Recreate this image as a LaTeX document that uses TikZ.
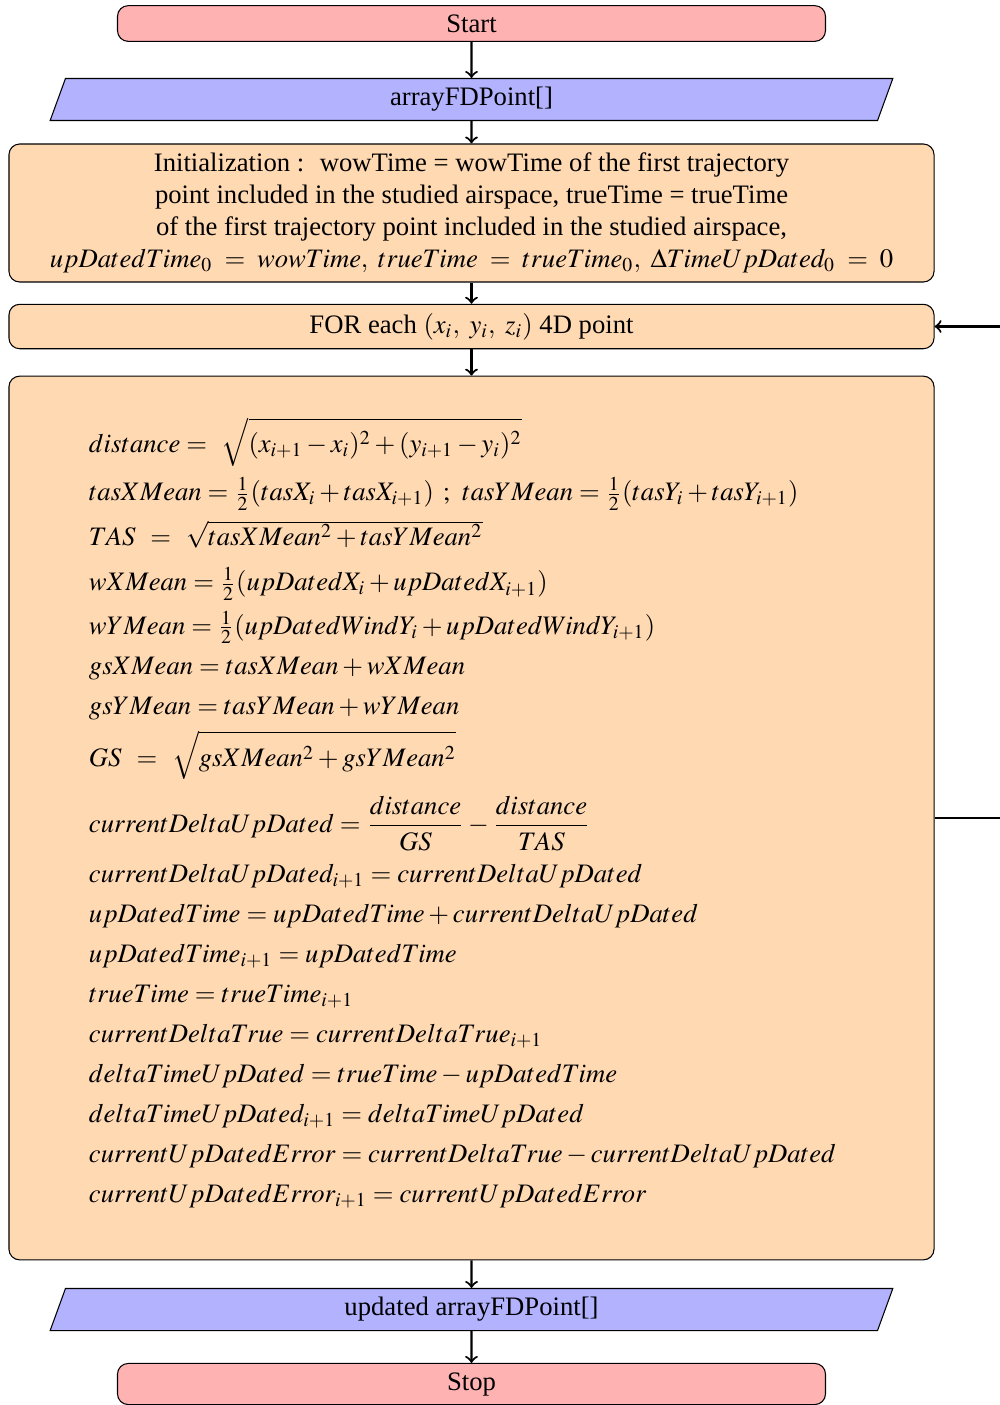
\documentclass[tikz,border=0pt]{standalone}
\usepackage{amsmath}
\usepackage{mathptmx}
\usepackage{fontspec}
\setmainfont{Liberation Serif}
\usepackage{tikz}
\usetikzlibrary{shapes.geometric}
\tikzset{
  term/.style    = {draw,rounded corners,fill=red!30,minimum width=265.5pt,
                     align=center},
  io/.style      = {trapezium,trapezium left angle=70,trapezium right angle=110,
                     trapezium stretches body,draw,fill=blue!30,
                     minimum width=316pt,align=center},
  proc/.style    = {draw,rounded corners,fill=orange!30,minimum width=346.9pt,
                     align=center},
  flowarr/.style = {->,thick},
}

\begin{document}
\begin{tikzpicture}[x=0.375pt,y=-0.375pt]
  \useasboundingbox (0,0) rectangle (999,1405);
  % blocks
  \node[term] (start) at (471.5,23.5) {Start};
  \node[io] (input) at (471.5,99.5) {arrayFDPoint[]};
  \node[proc] (init) at (471.5,213)
       {Initialization :~ wowTime = wowTime of the first trajectory\\
        point included in the studied airspace, trueTime = trueTime\\
        of the first trajectory point included in the studied airspace,\\
        $upDatedTime_0\;=\;wowTime,\ trueTime\;=\;trueTime_0,\
         \Delta TimeUpDated_0\;=\;0$};
  \node[proc] (loop) at (471.5,326.5) {FOR each $(x_i,\ y_i,\ z_i)$ 4D point};
  \node[proc,text width=286.9pt,inner xsep=30pt,inner ysep=15.5pt,align=left]
       (calc) at (471.5,818)
       {$\displaystyle distance =\ \sqrt{(x_{i+1}-x_i)^2+(y_{i+1}-y_i)^2}$\\[3pt]
        $tasXMean = \frac{1}{2}(tasX_i + tasX_{i+1})\ ;\ tasYMean = \frac{1}{2}(tasY_i + tasY_{i+1})$\\[3pt]
        $TAS\ =\ \sqrt{tasXMean^2 + tasYMean^2}$\\[5pt]
        $wXMean = \frac{1}{2}(upDatedX_i + upDatedX_{i+1})$\\[3pt]
        $wYMean = \frac{1}{2}(upDatedWindY_i + upDatedWindY_{i+1})$\\[3pt]
        $gsXMean = tasXMean + wXMean$\\[3pt]
        $gsYMean = tasYMean + wYMean$\\[3pt]
        $\displaystyle GS\ =\ \sqrt{\vphantom{(x_{i+1})^2}gsXMean^2 + gsYMean^2}$\\[5pt]
        $\displaystyle currentDeltaUpDated = \frac{distance}{GS} - \frac{distance}{TAS}$\\[4pt]
        $currentDeltaUpDated_{i+1} = currentDeltaUpDated$\\[3pt]
        $upDatedTime = upDatedTime + currentDeltaUpDated$\\[3pt]
        $upDatedTime_{i+1} = upDatedTime$\\[3pt]
        $trueTime = trueTime_{i+1}$\\[3pt]
        $currentDeltaTrue = currentDeltaTrue_{i+1}$\\[3pt]
        $deltaTimeUpDated = trueTime - upDatedTime$\\[3pt]
        $deltaTimeUpDated_{i+1} = deltaTimeUpDated$\\[3pt]
        $currentUpDatedError = currentDeltaTrue - currentDeltaUpDated$\\[3pt]
        $currentUpDatedError_{i+1} = currentUpDatedError$\\[-6pt]
        \mbox{}};
  \node[io] (output) at (471.5,1309.5) {updated arrayFDPoint[]};
  \node[term] (stop) at (471.5,1384) {Stop};
  % connectors
  \draw[flowarr] (start) -- (input);
  \draw[flowarr] (input) -- (init);
  \draw[flowarr] (init) -- (loop);
  \draw[flowarr] (loop) -- (calc);
  \draw[flowarr] (calc) -- (output);
  \draw[flowarr] (output) -- (stop);
  % back to the loop
  \coordinate (back) at (1010,818);
  \draw[flowarr] (calc.east) -- (back) |- (loop.east);
\end{tikzpicture}
\end{document}
